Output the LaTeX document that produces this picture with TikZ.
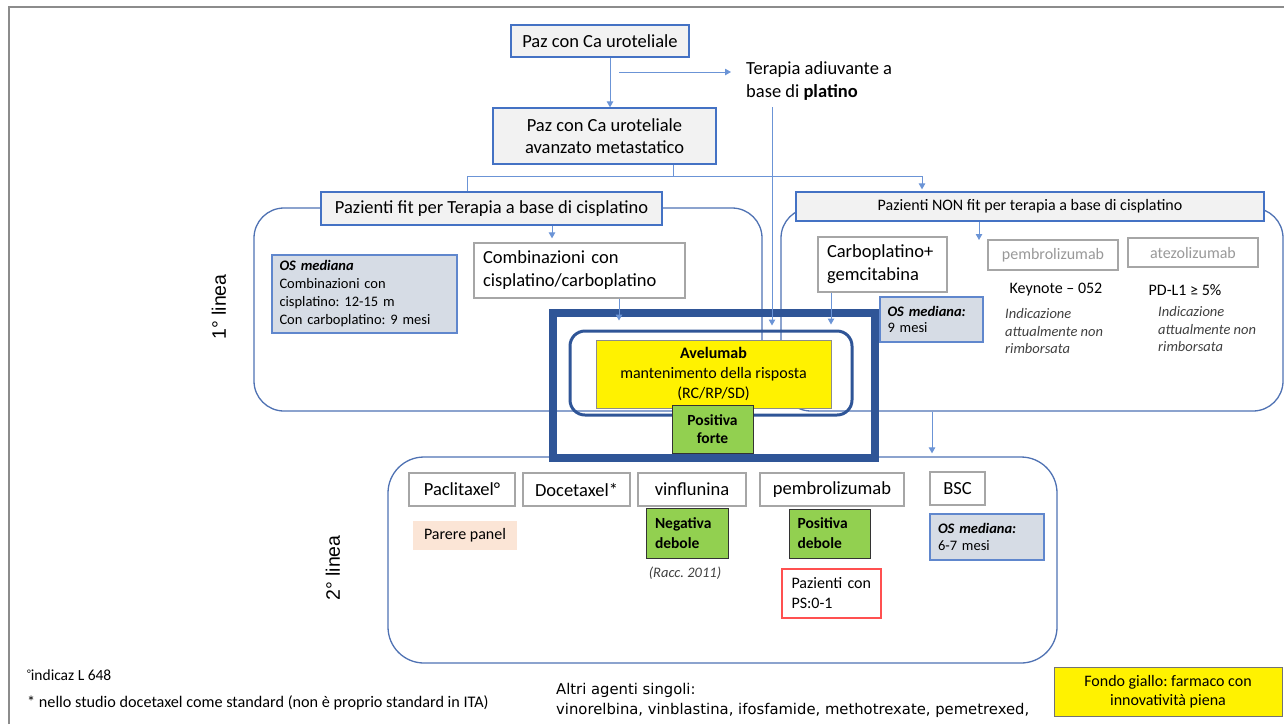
\documentclass[tikz,border=0pt]{standalone}
\usepackage{fontspec}
\setmainfont{Carlito}
\newfontfamily\arialf{Liberation Sans}
\newfontfamily\dejaf{DejaVu Sans}
\usetikzlibrary{arrows.meta,calc}
\frenchspacing

\definecolor{cblue}{HTML}{4472C4}
\definecolor{cgrp}{HTML}{4F72B3}
\definecolor{cconn}{HTML}{6B94D6}
\definecolor{cframe}{HTML}{2F5597}
\definecolor{cgray}{HTML}{F2F2F2}
\definecolor{cosfill}{HTML}{D6DCE5}
\definecolor{cgreen}{HTML}{92D050}
\definecolor{cpeach}{HTML}{FBE5D6}
\definecolor{cboxgray}{HTML}{A6A6A6}
\definecolor{cnote}{HTML}{404040}
\definecolor{cred}{HTML}{FF5050}

\newcommand{\myfs}[2]{\fontsize{#1pt}{#2pt}\selectfont}

\tikzset{
  wh/.style 2 args={minimum width=#1pt, minimum height=#2pt},
  graybox/.style={draw=cblue, line width=1.3pt, fill=cgray, inner sep=0pt, align=center, font=\myfs{18.5}{22}},
  whitebox/.style={draw=cboxgray, line width=1.3pt, fill=white, inner sep=0pt, align=center, font=\myfs{18.5}{23}},
  osbox/.style={draw=cblue!85, line width=1.6pt, fill=cosfill, inner sep=0pt, align=left, font=\myfs{14.5}{18}},
  greenbox/.style={draw=black!80, line width=1pt, fill=cgreen, inner sep=0pt, font=\bfseries\myfs{15.5}{19}},
  plaintxt/.style={inner sep=0pt, align=left},
  notetxt/.style={inner sep=0pt, align=left, text=cnote, font=\itshape\myfs{14.5}{17.5}},
  grp/.style={draw=cgrp, line width=1.3pt, inner sep=0pt},
  conn/.style={draw=cconn, line width=1pt},
  arr/.style={conn, -{Triangle[width=6.5pt,length=6pt]}, cconn},
  vlabel/.style={rotate=90, inner sep=0pt, font=\arialf\myfs{19.5}{22}},
}

\begin{document}
\begin{tikzpicture}[x=1pt,y=-1pt]
\useasboundingbox (0,0) rectangle (1284,724);

% slide frame
\draw[black!45, line width=2pt] (9,724) -- (9,7) -- (1284,7);

% line groups
\node[grp, rounded corners=30pt, wh={508}{203}] (line1L) at (508,309.5) {};
\node[grp, rounded corners=30pt, wh={502}{203}] (line1R) at (1032,309.5) {};
\node[grp, rounded corners=36pt, wh={669}{206}] (line2) at (722.5,560) {};

% connector coordinates
\coordinate (xab) at (610,0);
\coordinate (tstart) at (619,72);
\coordinate (tv) at (772,107);
\coordinate (jB) at (673,176);
\coordinate (bl) at (467,176);
\coordinate (br) at (922,176);
\coordinate (xf) at (552,0);
\coordinate (xc) at (619,0);
\coordinate (xg) at (831,0);
\coordinate (nfe) at (979,240);
\coordinate (xbsc) at (932,0);

% top nodes
\node[graybox, wh={178}{32}] (pazA) at (600,41) {Paz con Ca uroteliale};
\node[graybox, wh={223}{56}] (pazB) at (604.5,136) {Paz con Ca uroteliale\\avanzato metastatico};
\node[plaintxt, anchor=west, font=\myfs{18.5}{23}] (terap) at (746,81) {Terapia adiuvante a\\base di \textbf{platino}};

% first line
\node[graybox, wh={341}{33}] (fit) at (491.5,208.5) {Pazienti fit per Terapia a base di cisplatino};
\node[graybox, wh={468}{29}, font=\myfs{16}{19}] (nonfit) at (1030,206.5) {Pazienti NON fit per terapia a base di cisplatino};

\node[osbox, wh={185}{78}, text width=170pt] (os1) at (364.5,294)
  {\textbf{\textit{OS mediana}}\\Combinazioni con\\cisplatino: 12-15 m\\Con carboplatino: 9 mesi};
\node[whitebox, wh={211}{55}, text width=193pt, align=left] (comb) at (579.5,270.5)
  {Combinazioni con\\cisplatino/carboplatino};
\node[whitebox, wh={129}{55}, text width=111pt, align=left] (carbo) at (882.5,264.5)
  {Carboplatino+\\gemcitabina};
\node[osbox, wh={103}{45}, text width=88pt, font=\myfs{14.5}{16}] (os2) at (931.5,319.5)
  {\textbf{\textit{OS mediana:}}\\9 mesi};
\node[whitebox, wh={130}{30}, text=black!40, font=\myfs{16}{19}] (pemg) at (1053,255) {pembrolizumab};
\node[whitebox, wh={130}{29}, text=black!40, font=\myfs{16}{19}] (atez) at (1193,252.5) {atezolizumab};
\node[plaintxt, font=\myfs{16}{19}] (key) at (1056,290) {Keynote – 052};
\node[plaintxt, font=\myfs{16}{19}] (pdl) at (1185,290) {PD-L1 ≥ 5\%};
\node[notetxt, anchor=west] (nt1) at (1005,331.5) {Indicazione\\attualmente non\\rimborsata};
\node[notetxt, anchor=west] (nt2) at (1158,329.5) {Indicazione\\attualmente non\\rimborsata};

% connectors
\draw[arr] (pazA.south -| xab) -- (pazB.north -| xab);
\draw[arr, shorten >=15pt] (tstart) -- (tstart -| terap.west);
\draw[conn] (pazB.south -| jB) -- (jB);
\draw[conn] (fit.north -| bl) -- (bl) -- (br);
\draw[arr, shorten >=2pt] (br) -- (nonfit.north -| br);
\draw[arr, shorten >=4pt] (fit.south -| xf) -- (comb.north -| xf);
\draw[arr] (nonfit.south -| nfe) -- (nfe);

% maintenance block
\node[draw=cframe, line width=8pt, wh={322.5}{145}] (hl) at (713.75,385.5) {};
\node[draw=cframe, line width=3pt, rounded corners=15pt, wh={282}{84}] (avfr) at (711,373) {};
\draw[arr, shorten >=4pt] (tv) -- (avfr.north -| tv);
\draw[arr, shorten >=9pt] (comb.south -| xc) -- (avfr.north -| xc);
\draw[arr, shorten >=5pt] (carbo.south -| xg) -- (avfr.north -| xg);
\node[draw=black!45, line width=0.8pt, fill=yellow, inner sep=0pt, align=center, wh={235}{68}, font=\myfs{16}{20}] (avel) at (713.5,374)
  {\textbf{Avelumab}\\mantenimento della risposta\\(RC/RP/SD)};
\node[greenbox, wh={81}{48}, align=center, font=\bfseries\myfs{15.5}{18}] (pforte) at (712.5,429) {Positiva\\forte};

% second line
\draw[arr, shorten >=3pt] (line1R.south -| xbsc) -- (line2.north -| xbsc);
\node[whitebox, wh={106}{33}] (pacl) at (462,489.5) {Paclitaxel°};
\node[whitebox, wh={107}{33}] (doce) at (576.5,489.5) {Docetaxel*};
\node[whitebox, wh={108}{33}] (vinf) at (692,489.5) {vinflunina};
\node[whitebox, wh={144}{33}] (pem2) at (832,489.5) {pembrolizumab};
\node[whitebox, wh={55}{33}] (bsc) at (957.5,488.5) {BSC};
\node[fill=cpeach, inner sep=0pt, wh={104}{29}, font=\myfs{16}{19}] (parere) at (465,535.5) {Parere panel};
\node[greenbox, wh={82}{50}, text width=64pt, align=left, font=\bfseries\myfs{15.5}{20}] (negdeb) at (687,533) {Negativa\\debole};
\node[notetxt, align=center] (racc) at (685,573) {(Racc. 2011)};
\node[greenbox, wh={81}{49}, text width=64pt, align=left, font=\bfseries\myfs{15.5}{20}] (posdeb) at (829.5,533.5) {Positiva\\debole};
\node[draw=cred, line width=1.3pt, fill=white, inner sep=0pt, wh={99}{49}, text width=80pt, align=left, font=\myfs{16}{20}] (ps) at (831.5,593.5) {Pazienti con\\PS:0-1};
\node[osbox, wh={114}{46}, text width=98pt, font=\myfs{14.5}{17}] (os3) at (987,537) {\textbf{\textit{OS mediana:}}\\6-7 mesi};

% side labels
\node[vlabel] (lab1) at (219,307) {1° linea};
\node[vlabel] (lab2) at (333,568) {2° linea};

% footnotes
\node[plaintxt, anchor=west, font=\myfs{15.5}{18}] (fn1) at (27,675) {\raisebox{3pt}{\myfs{11}{11}°}indicaz L 648};
\node[plaintxt, anchor=west, font=\myfs{16.2}{18}] (fn2) at (27,703) {* nello studio docetaxel come standard (non è proprio standard in ITA)};
\node[plaintxt, anchor=west, font=\dejaf\myfs{14.8}{20}] (altri) at (556,700) {Altri agenti singoli:\\vinorelbina, vinblastina, ifosfamide, methotrexate, pemetrexed,};
\node[draw=black!55, line width=0.8pt, fill=yellow, inner sep=0pt, align=center, wh={228}{49}, font=\myfs{16}{19}] (fondo) at (1168,691.5) {Fondo giallo: farmaco con\\innovatività piena};

\end{tikzpicture}
\end{document}
